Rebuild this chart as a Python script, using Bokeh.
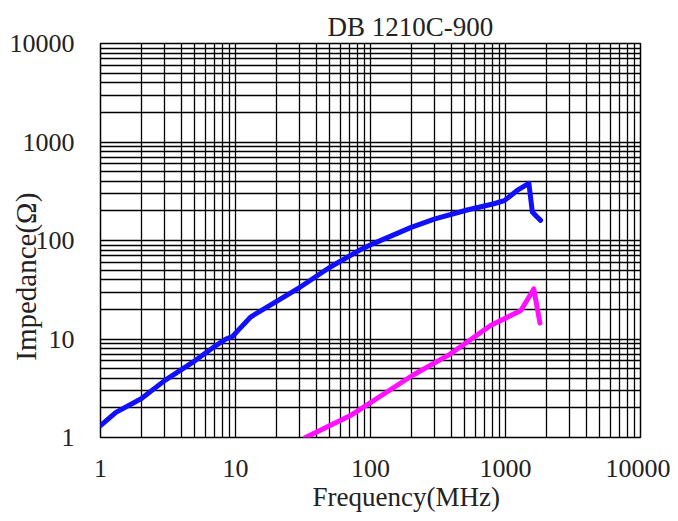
from bokeh.plotting import figure
from bokeh.models import Range1d, FixedTicker, Title
from bokeh.embed import file_html
from bokeh.resources import INLINE

# ---- data ----
title_text = "DB 1210C-900"
x_label = "Frequency(MHz)"
y_label = "Impedance(Ω)"

major_ticks = [1, 10, 100, 1000, 10000]
tick_labels = ["1", "10", "100", "1000", "10000"]

blue_f = [1, 1.3, 2, 3, 5, 7, 8.5, 9.5, 10.5, 13, 20, 30, 50, 82, 105, 200, 300, 520, 820, 980, 1220, 1490, 1580, 1700, 1820]
blue_z = [1.32, 1.8, 2.47, 3.8, 6.0, 8.4, 10.0, 10.6, 12.3, 16.8, 24, 33.5, 53.5, 79, 93, 136, 166, 204, 236, 254, 322, 381, 195, 175, 160]

pink_f = [33, 71, 204, 392, 775, 1300, 1620, 1800]
pink_z = [1.0, 1.67, 4.26, 7.07, 13.7, 19.5, 32.2, 14.5]

minor_ticks = [m * d for d in [1, 10, 100, 1000] for m in range(2, 10)]

FONT = "Liberation Serif"
TXT = "#222222"
NBSP = "\u00a0"

p = figure(width=670, height=513, x_axis_type="log", y_axis_type="log",
           x_range=Range1d(1, 10000), y_range=Range1d(1, 10000),
           output_backend="svg", toolbar_location=None,
           min_border_left=100, min_border_right=30, min_border_top=43, min_border_bottom=76)

p.background_fill_color = "white"
p.border_fill_color = "white"
p.outline_line_color = "black"
p.outline_line_width = 1.5

for ax, grid in ((p.xaxis, p.xgrid), (p.yaxis, p.ygrid)):
    t = FixedTicker(ticks=major_ticks, minor_ticks=minor_ticks)
    ax.ticker = t
    ax.major_label_overrides = {v: s for v, s in zip(major_ticks, tick_labels)}
    ax.major_label_text_font = FONT
    ax.major_label_text_font_size = "26px"
    ax.major_label_text_color = TXT
    ax.major_tick_line_color = None
    ax.minor_tick_line_color = None
    ax.axis_line_color = None
    grid.ticker = t
    grid.grid_line_color = "black"
    grid.grid_line_width = 1.3
    grid.minor_grid_line_color = "black"
    grid.minor_grid_line_width = 1.3

p.xaxis.major_label_standoff = 16
p.yaxis.major_label_standoff = 20

# y axis label: overlaps the tick labels a little, shifted down like the reference
p.yaxis.axis_label = y_label + NBSP * 10
p.yaxis.axis_label_standoff = -35
p.yaxis.axis_label_text_font = FONT
p.yaxis.axis_label_text_font_size = "29px"
p.yaxis.axis_label_text_font_style = "normal"
p.yaxis.axis_label_text_color = TXT

p.line(blue_f, blue_z, line_color="#1010ff", line_width=5, line_join="round", line_cap="round")
p.line(pink_f, pink_z, line_color="#ff10ff", line_width=5, line_join="round", line_cap="round")

def make_title(text, offset, standoff):
    return Title(text=text, align="left", offset=offset, standoff=standoff,
                 text_font=FONT, text_font_size="27px", text_font_style="normal",
                 text_color=TXT)

p.add_layout(make_title(title_text, 227, 4), "above")
p.add_layout(make_title(x_label, 212, 0), "below")

open("out.html", "w").write(file_html(p, INLINE))
